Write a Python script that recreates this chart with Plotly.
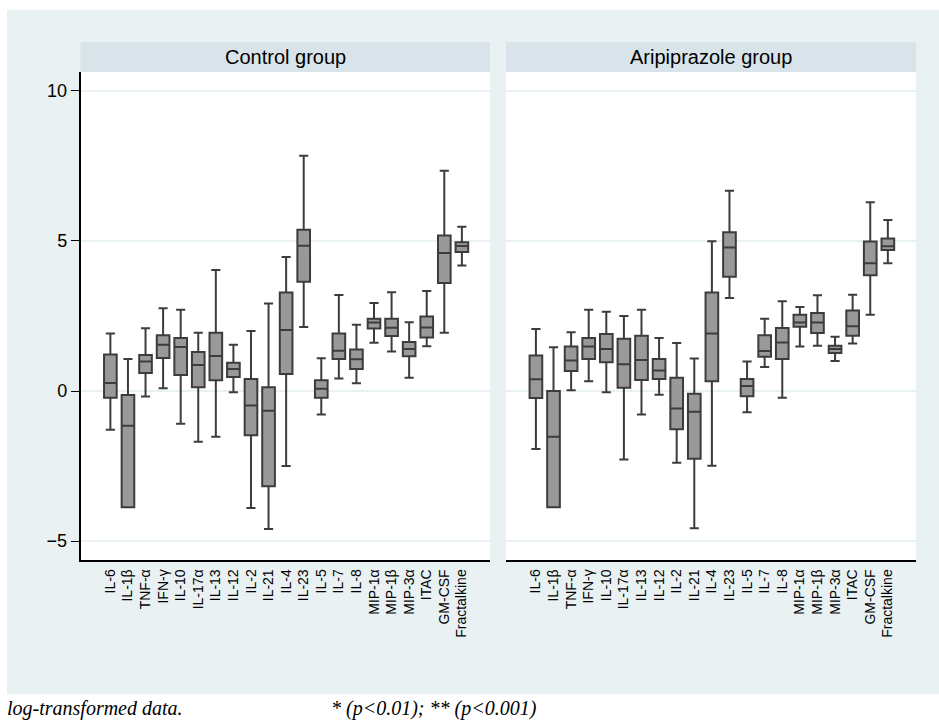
import plotly.graph_objects as go

categories = ["IL-6", "IL-1β", "TNF-α", "IFN-γ", "IL-10", "IL-17α", "IL-13", "IL-12",
              "IL-2", "IL-21", "IL-4", "IL-23", "IL-5", "IL-7", "IL-8", "MIP-1α",
              "MIP-1β", "MIP-3α", "ITAC", "GM-CSF", "Fractalkine"]

# Control group
ctrl_lower = [-1.29, -3.87, -0.18, 0.09, -1.09, -1.69, -1.52, -0.04, -3.90, -4.60, -2.50,
              2.13, -0.78, 0.42, 0.26, 1.61, 1.32, 0.44, 1.49, 1.94, 4.18]
ctrl_q1 = [-0.22, -3.87, 0.60, 1.10, 0.53, 0.13, 0.36, 0.47, -1.47, -3.17, 0.57,
           3.64, -0.22, 1.07, 0.73, 2.08, 1.83, 1.16, 1.78, 3.60, 4.63]
ctrl_median = [0.27, -1.16, 0.98, 1.54, 1.47, 0.87, 1.17, 0.73, -0.48, -0.66, 2.03,
               4.84, 0.08, 1.34, 1.06, 2.28, 2.11, 1.40, 2.12, 4.60, 4.83]
ctrl_q3 = [1.22, -0.13, 1.20, 1.86, 1.77, 1.30, 1.94, 0.94, 0.40, 0.13, 3.28,
           5.37, 0.36, 1.92, 1.38, 2.41, 2.41, 1.63, 2.48, 5.18, 4.96]
ctrl_upper = [1.92, 1.07, 2.09, 2.76, 2.71, 1.94, 4.03, 1.54, 2.00, 2.92, 4.47,
              7.84, 1.09, 3.20, 2.21, 2.93, 3.29, 2.29, 3.33, 7.34, 5.47]

# Aripiprazole group
ari_lower = [-1.93, -3.87, 0.03, 0.33, -0.04, -2.28, -0.78, -0.12, -2.39, -4.57, -2.49,
             3.10, -0.71, 0.80, -0.22, 1.48, 1.51, 1.00, 1.58, 2.54, 4.26]
ari_q1 = [-0.23, -3.87, 0.67, 1.07, 0.96, 0.11, 0.37, 0.40, -1.27, -2.26, 0.33,
          3.81, -0.17, 1.14, 1.07, 2.14, 1.93, 1.27, 1.84, 3.86, 4.70]
ari_median = [0.39, -1.52, 1.02, 1.48, 1.40, 0.89, 1.03, 0.68, -0.58, -0.69, 1.92,
              4.78, 0.17, 1.33, 1.62, 2.28, 2.28, 1.40, 2.16, 4.26, 4.82]
ari_q3 = [1.18, 0.00, 1.48, 1.77, 1.90, 1.74, 1.84, 1.07, 0.44, -0.09, 3.28,
          5.29, 0.40, 1.86, 2.10, 2.54, 2.60, 1.51, 2.68, 4.98, 5.08]
ari_upper = [2.07, 1.46, 1.96, 2.71, 2.64, 2.50, 2.71, 1.77, 1.60, 1.08, 4.99,
             6.67, 0.98, 2.41, 2.99, 2.80, 3.19, 1.81, 3.21, 6.29, 5.70]

panel_titles = ["Control group", "Aripiprazole group"]
y_ticks = [-5, 0, 5, 10]
footer_left = "log-transformed data."
footer_right = "* (p<0.01); ** (p<0.001)"

W, H = 939, 722
BG = "#e9f1f3"
STRIP = "#d8e4ea"
BOX_FILL = "#999999"
BOX_LINE = "#3c3c3c"

def px_x(v):
    return v / W

def px_y(v):
    return 1 - v / H

left_dom = [px_x(80.5), px_x(490)]
right_dom = [px_x(506), px_x(916)]
y_dom = [px_y(560), px_y(72)]

fig = go.Figure()

def add_box(name, xa, ya, lower, q1, med, q3, upper):
    fig.add_trace(go.Box(
        name=name, x=categories, q1=q1, median=med, q3=q3,
        lowerfence=lower, upperfence=upper,
        xaxis=xa, yaxis=ya, boxpoints=False,
        fillcolor=BOX_FILL, line=dict(color=BOX_LINE, width=2),
        width=0.72, whiskerwidth=0.72, showlegend=False, hoverinfo="skip",
    ))

add_box(panel_titles[0], "x", "y", ctrl_lower, ctrl_q1, ctrl_median, ctrl_q3, ctrl_upper)
add_box(panel_titles[1], "x2", "y2", ari_lower, ari_q1, ari_median, ari_q3, ari_upper)

xcommon = dict(
    type="category", categoryorder="array", categoryarray=categories,
    range=[-1.7, 21.6], tickangle=-90, showgrid=False, zeroline=False,
    showline=True, linecolor="black", linewidth=1.5, ticks="",
    tickfont=dict(family="Liberation Sans, Arial", size=14, color="black"),
    fixedrange=True, ticklabelstandoff=2,
)
ycommon = dict(
    range=[-5.63, 10.63], tickvals=y_ticks, showgrid=True, gridcolor=BG, gridwidth=1.5,
    zeroline=False, fixedrange=True,
)

fig.update_layout(
    width=W, height=H,
    margin=dict(l=0, r=0, t=0, b=0, autoexpand=False),
    paper_bgcolor=BG, plot_bgcolor="white",
    xaxis=dict(domain=left_dom, anchor="y", **xcommon),
    xaxis2=dict(domain=right_dom, anchor="y2", **xcommon),
    yaxis=dict(domain=y_dom, anchor="x", showline=True, linecolor="black", linewidth=1.5,
               ticks="outside", ticklen=8, tickcolor="black", tickwidth=1.2,
               ticklabelstandoff=0,
               tickfont=dict(family="Liberation Sans, Arial", size=18, color="black"),
               **ycommon),
    yaxis2=dict(domain=y_dom, anchor="x2", showline=False, showticklabels=False,
                ticks="", matches="y", **ycommon),
    showlegend=False,
)

shapes = []
# white borders around the light background
shapes.append(dict(type="rect", xref="paper", yref="paper", x0=0, x1=1, y0=px_y(10), y1=1,
                   fillcolor="white", line=dict(width=0), layer="below"))
shapes.append(dict(type="rect", xref="paper", yref="paper", x0=0, x1=1, y0=0, y1=px_y(694),
                   fillcolor="white", line=dict(width=0), layer="below"))
shapes.append(dict(type="rect", xref="paper", yref="paper", x0=0, x1=px_x(7), y0=0, y1=1,
                   fillcolor="white", line=dict(width=0), layer="below"))
# panel header strips
for dom in (left_dom, right_dom):
    shapes.append(dict(type="rect", xref="paper", yref="paper", x0=dom[0], x1=dom[1],
                       y0=px_y(72), y1=px_y(42), fillcolor=STRIP, line=dict(width=0),
                       layer="below"))
fig.update_layout(shapes=shapes)

annotations = []
for dom, title in zip((left_dom, right_dom), panel_titles):
    annotations.append(dict(
        text=title, xref="paper", yref="paper", x=(dom[0] + dom[1]) / 2, y=px_y(57),
        xanchor="center", yanchor="middle", showarrow=False,
        font=dict(family="Liberation Sans, Arial", size=20, color="black")))
annotations.append(dict(
    text="<i>" + footer_left + "</i>", xref="paper", yref="paper", x=px_x(5), y=px_y(708),
    xanchor="left", yanchor="middle", showarrow=False,
    font=dict(family="Liberation Serif, Times New Roman", size=20, color="black")))
annotations.append(dict(
    text="<i>" + footer_right.replace("<", "&lt;") + "</i>", xref="paper", yref="paper",
    x=px_x(329), y=px_y(708), xanchor="left", yanchor="middle", showarrow=False,
    font=dict(family="Liberation Serif, Times New Roman", size=20, color="black")))
fig.update_layout(annotations=annotations)

fig.write_html(
    "out.html",
    config={"displayModeBar": False},
    post_script="document.body.style.margin='0';document.body.style.padding='0';"
                "document.body.style.overflow='hidden';",
)
